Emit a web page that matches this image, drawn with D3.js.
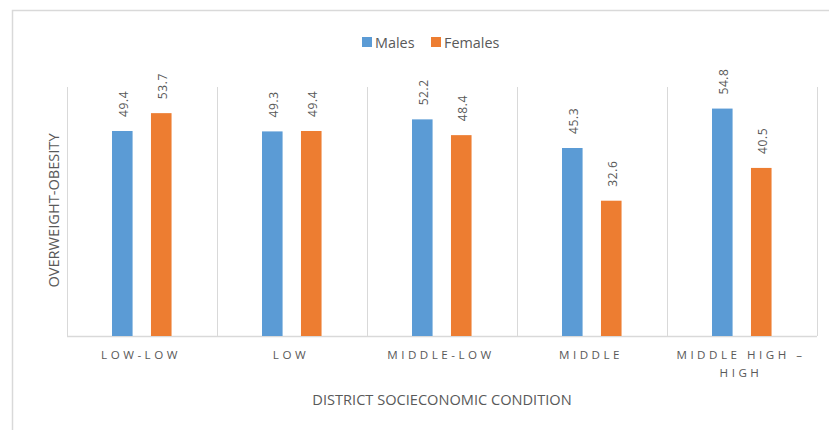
<!DOCTYPE html>
<html>
<head>
<meta charset="utf-8">
<script src="https://cdnjs.cloudflare.com/ajax/libs/d3/7.8.5/d3.min.js"></script>
<style>
  html, body { margin: 0; padding: 0; background: #fff; }
  svg { display: block; }
  text { font-family: "Open Sans", "Noto Sans", sans-serif; fill: #595959; }
</style>
</head>
<body>
<svg id="chart" width="829" height="430"></svg>
<script>
// Socioeconomic condition of the district
const categories = [["LOW-LOW"], ["LOW"], ["MIDDLE-LOW"], ["MIDDLE"], ["MIDDLE HIGH –", "HIGH"]];
const seriesNames = ["Males", "Females"];
const males = [49.4, 49.3, 52.2, 45.3, 54.8];
const females = [53.7, 49.4, 48.4, 32.6, 40.5];
const colors = ["#5B9BD5", "#ED7D31"];
const yMax = 60;

const svg = d3.select("#chart");
const W = 829, H = 430;
const margin = { left: 67, right: 12, top: 87, bottom: 94 };
const plotW = W - margin.left - margin.right;
const plotH = H - margin.top - margin.bottom;

// outer frame
svg.append("rect")
  .attr("x", 12.5).attr("y", 10.5)
  .attr("width", 830).attr("height", 440)
  .attr("fill", "none").attr("stroke", "#D9D9D9").attr("stroke-width", 1.5);

const keys = categories.map((c, i) => i);
const x = d3.scaleBand().domain(keys).range([margin.left, margin.left + plotW]).paddingInner(0).paddingOuter(0);
// the bar pair sits in the middle of each category slot
const bw = x.bandwidth();
const xs = d3.scaleBand().domain(seriesNames).range([bw * 0.3, bw * 0.697]).paddingInner(0.472).paddingOuter(0);
const y = d3.scaleLinear().domain([0, yMax]).range([margin.top + plotH, margin.top]);

const g = svg.append("g");

// category separators
const bounds = keys.map(k => x(k)).concat([margin.left + plotW]);
g.selectAll("line.sep").data(bounds).join("line")
  .attr("class", "sep")
  .attr("x1", d => Math.round(d) + 0.5).attr("x2", d => Math.round(d) + 0.5)
  .attr("y1", y(yMax)).attr("y2", y(0))
  .attr("stroke", "#D9D9D9").attr("stroke-width", 1);

// baseline
g.append("line")
  .attr("x1", margin.left).attr("x2", margin.left + plotW)
  .attr("y1", y(0) + 0.5).attr("y2", y(0) + 0.5)
  .attr("stroke", "#D9D9D9").attr("stroke-width", 1.5);

const rows = keys.map(i => ({ i, vals: [males[i], females[i]] }));

const groups = g.selectAll("g.cat").data(rows).join("g")
  .attr("class", "cat")
  .attr("transform", d => `translate(${x(d.i)},0)`);

groups.selectAll("rect").data(d => d.vals.map((v, j) => ({ v, s: seriesNames[j], j }))).join("rect")
  .attr("x", d => xs(d.s))
  .attr("width", xs.bandwidth())
  .attr("y", d => y(d.v))
  .attr("height", d => y(0) - y(d.v))
  .attr("fill", d => colors[d.j]);

// value labels, rotated above each bar
groups.selectAll("text.val").data(d => d.vals.map((v, j) => ({ v, s: seriesNames[j], j }))).join("text")
  .attr("class", "val")
  .attr("transform", d => `translate(${xs(d.s) + xs.bandwidth() / 2 + 5.5},${y(d.v) - 14}) rotate(-90)`)
  .attr("text-anchor", "start")
  .style("font-size", "12px")
  .style("letter-spacing", "0.6px")
  .text(d => d.v.toFixed(1));

// category labels
const xl = g.selectAll("text.cat").data(rows).join("text")
  .attr("class", "cat")
  .attr("x", d => x(d.i) + x.bandwidth() / 2 - 1)
  .attr("y", 359)
  .attr("text-anchor", "middle")
  .style("font-size", "11.6px")
  .style("letter-spacing", "3.5px");
xl.selectAll("tspan").data(d => categories[d.i]).join("tspan")
  .attr("x", function () { return d3.select(this.parentNode).attr("x"); })
  .attr("dy", (d, k) => k === 0 ? 0 : 17.5)
  .text(d => d);

// axis titles
svg.append("text")
  .attr("x", margin.left + plotW / 2)
  .attr("y", 405)
  .attr("text-anchor", "middle")
  .style("font-size", "14.6px")
  .text("DISTRICT SOCIECONOMIC CONDITION");

svg.append("text")
  .attr("transform", `translate(58.5,${margin.top + plotH / 2 - 1}) rotate(-90)`)
  .attr("text-anchor", "middle")
  .style("font-size", "14.6px")
  .text("OVERWEIGHT-OBESITY");

// legend
const legend = svg.append("g").attr("transform", "translate(362,37)");
const legX = [0, 69];
seriesNames.forEach((s, j) => {
  const lg = legend.append("g").attr("transform", `translate(${legX[j]},0)`);
  lg.append("rect").attr("width", 10).attr("height", 10).attr("fill", colors[j]);
  lg.append("text").attr("x", 13).attr("y", 10.5).style("font-size", "14.4px").text(s);
});
</script>
</body>
</html>
